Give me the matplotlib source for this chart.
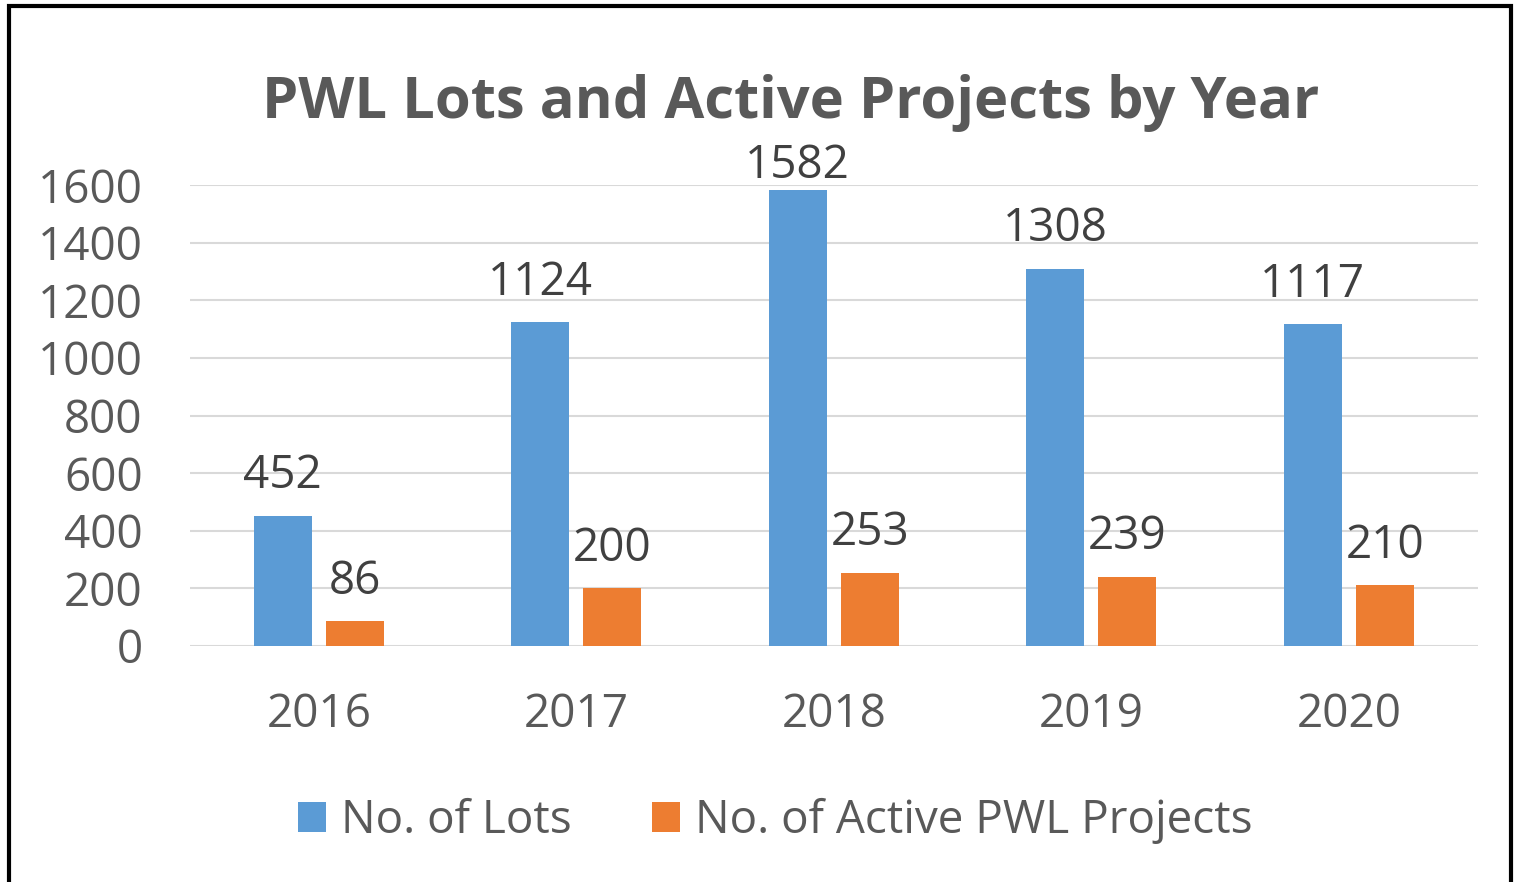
import matplotlib.pyplot as plt
import numpy as np
from matplotlib.patches import Rectangle

plt.rcParams['font.family'] = ['Open Sans', 'DejaVu Sans']

# Data
years = ['2016', '2017', '2018', '2019', '2020']
lots = [452, 1124, 1582, 1308, 1117]
projects = [86, 200, 253, 239, 210]
yticks = [0, 200, 400, 600, 800, 1000, 1200, 1400, 1600]

blue = '#5B9BD5'
orange = '#ED7D31'

fig = plt.figure(figsize=(15.14, 8.82), dpi=100)
ax = fig.add_axes([0.1255, 0.2676, 0.8505, 0.5226])

x = np.arange(len(years))
w = 0.225
off = 0.14
b1 = ax.bar(x - off, lots, w, color=blue, label='No. of Lots', zorder=3)
b2 = ax.bar(x + off, projects, w, color=orange, label='No. of Active PWL Projects', zorder=3)

# value labels above the bars (the tallest one is squeezed under the title)
for bars, vals in ((b1, lots), (b2, projects)):
    for r, v in zip(bars, vals):
        dy = 1 if v > 1500 else 12
        ax.annotate(str(v), (r.get_x() + r.get_width() / 2, v),
                    xytext=(0, dy), textcoords='offset points',
                    ha='center', va='bottom', fontsize=33, color='#404040',
                    annotation_clip=False)

ax.set_xlim(-0.5, len(years) - 0.5)
ax.set_ylim(0, 1600)
ax.set_yticks(yticks)
ax.set_yticklabels([str(t) for t in yticks])
ax.set_xticks(x)
ax.set_xticklabels(years)
ax.tick_params(axis='y', length=0, pad=34, labelsize=33, labelcolor='#595959')
ax.tick_params(axis='x', length=0, pad=33, labelsize=33, labelcolor='#595959')
ax.grid(axis='y', color='#D9D9D9', linewidth=1.5, zorder=0)
for s in ax.spines.values():
    s.set_visible(False)

fig.text(0.5225, 0.883, 'PWL Lots and Active Projects by Year', ha='center', va='center',
         fontsize=41.7, fontweight='bold', color='#595959')

leg = fig.legend(loc='center', bbox_to_anchor=(0.512, 0.069), ncol=2, frameon=False,
                 fontsize=33, handlelength=0.61, handleheight=0.61, handletextpad=0.33,
                 columnspacing=1.75, labelcolor='#595959')

# outer frame
fig.patches.append(Rectangle((0.006, -0.01), 0.992, 1.003, transform=fig.transFigure,
                             fill=False, edgecolor='black', linewidth=3))

fig.savefig('out.png', dpi=100)
